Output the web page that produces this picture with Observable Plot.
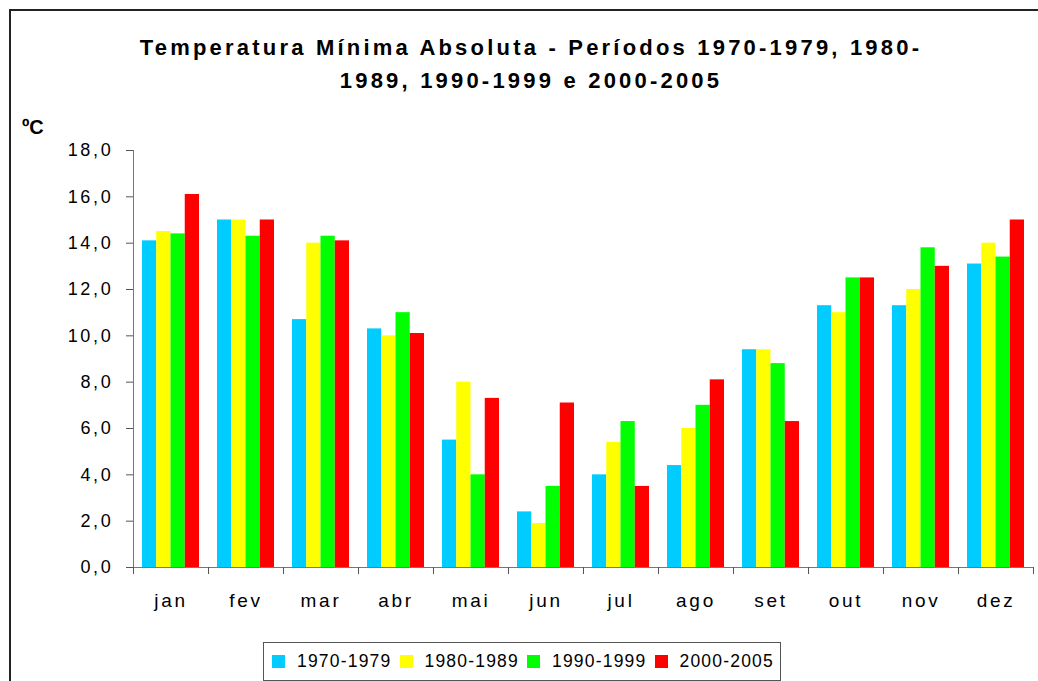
<!DOCTYPE html>
<html>
<head>
<meta charset="utf-8">
<script src="https://cdn.jsdelivr.net/npm/d3@7"></script>
<script src="https://cdn.jsdelivr.net/npm/@observablehq/plot@0.6"></script>
<style>
  html, body { margin: 0; padding: 0; background: #fff; }
  body { font-family: "Liberation Sans", Arial, sans-serif; }
  #wrap { position: relative; width: 1038px; height: 681px; overflow: hidden; background: #fff; }
  #border { position: absolute; left: 9px; top: 9px; width: 1060px; height: 700px; border: 2px solid #222; box-sizing: border-box; }
  #title { position: absolute; left: 0; width: 1062px; top: 31px; text-align: center; font-weight: bold; font-size: 22px; letter-spacing: 3.2px; line-height: 33px; color: #000; }
  #unit { position: absolute; left: 22px; top: 116px; font-weight: bold; font-size: 20px; color: #000; }
  #chart { position: absolute; left: 0; top: 130px; }
  #chart svg text { letter-spacing: 2.7px; }
  #legend { position: absolute; left: 263px; top: 642px; width: 518px; height: 39px; border: 1px solid #555; box-sizing: border-box; display: flex; align-items: center; padding-left: 8px; font-size: 17.5px; letter-spacing: 1.2px; color: #000; white-space: nowrap; }
  .item { display: flex; align-items: center; margin-right: 8px; flex-shrink: 0; white-space: nowrap; }
  .sw { width: 13px; height: 13px; margin-right: 12px; flex-shrink: 0; }
</style>
</head>
<body>
<div id="wrap">
  <div id="border"></div>
  <div id="title">Temperatura Mínima Absoluta - Períodos 1970-1979, 1980-<br>1989, 1990-1999 e 2000-2005</div>
  <div id="unit">ºC</div>
  <div id="chart"></div>
  <div id="legend"></div>
</div>
<script>
const months = ["jan", "fev", "mar", "abr", "mai", "jun", "jul", "ago", "set", "out", "nov", "dez"];
const periods = ["1970-1979", "1980-1989", "1990-1999", "2000-2005"];
const v1970 = [14.1, 15.0, 10.7, 10.3, 5.5, 2.4, 4.0, 4.4, 9.4, 11.3, 11.3, 13.1];
const v1980 = [14.5, 15.0, 14.0, 10.0, 8.0, 1.9, 5.4, 6.0, 9.4, 11.0, 12.0, 14.0];
const v1990 = [14.4, 14.3, 14.3, 11.0, 4.0, 3.5, 6.3, 7.0, 8.8, 12.5, 13.8, 13.4];
const v2000 = [16.1, 15.0, 14.1, 10.1, 7.3, 7.1, 3.5, 8.1, 6.3, 12.5, 13.0, 15.0];
const colors = ["#00CCFF", "#FFFF00", "#00FF00", "#FF0000"];
const yTicks = [0, 2, 4, 6, 8, 10, 12, 14, 16, 18];

const series = [v1970, v1980, v1990, v2000];
const width = 1038, height = 490;
const marginLeft = 133, marginRight = 5;
const band = (width - marginLeft - marginRight) / months.length;
const barW = 14.25;
const inset = (band - barW) / 2;

const barMarks = series.map((vals, i) =>
  Plot.barY(months.map((m, j) => ({month: m, value: vals[j], period: periods[i]})), {
    x: "month", y: "value", fill: colors[i],
    insetLeft: inset, insetRight: inset, dx: (i - 1.5) * barW
  })
);

const chart = Plot.plot({
  width, height,
  marginLeft, marginRight, marginTop: 20, marginBottom: 53,
  style: {fontFamily: "'Liberation Sans', Arial, sans-serif", color: "#000", background: "transparent"},
  x: {domain: months, padding: 0, axis: null},
  y: {domain: [0, 18], axis: null},
  marks: [
    ...barMarks,
    Plot.frame({anchor: "left", stroke: "#777"}),
    Plot.frame({anchor: "bottom", stroke: "#777"}),
    Plot.axisY({ticks: yTicks, tickSize: 7, tickPadding: 13, fontSize: 18, stroke: "#555",
      tickFormat: d => d.toFixed(1).replace(".", ","), label: null}),
    Plot.axisX({tickSize: 0, tickPadding: 26, fontSize: 19, label: null}),
    Plot.axisX({tickSize: 7, text: null, tickFormat: () => "", dx: -band / 2, stroke: "#555", label: null}),
    Plot.axisX(["dez"], {tickSize: 7, text: null, tickFormat: () => "", dx: band / 2, stroke: "#555", label: null})
  ]
});
document.getElementById("chart").appendChild(chart);

const legend = document.getElementById("legend");
periods.forEach((p, i) => {
  const it = document.createElement("div");
  it.className = "item";
  const sw = document.createElement("div");
  sw.className = "sw";
  sw.style.background = colors[i];
  const t = document.createElement("span");
  t.textContent = p;
  it.appendChild(sw);
  it.appendChild(t);
  legend.appendChild(it);
});
</script>
</body>
</html>
